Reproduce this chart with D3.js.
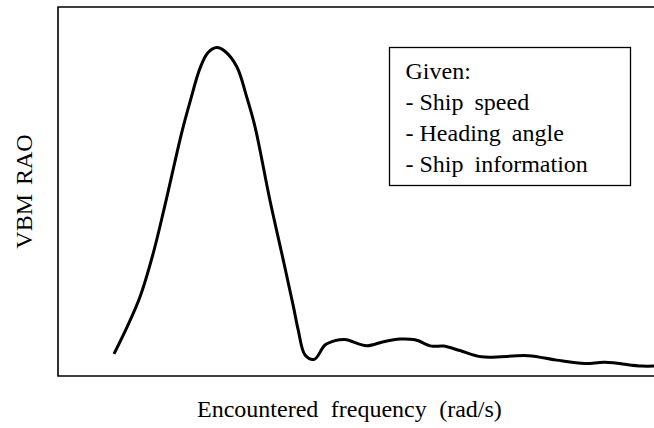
<!DOCTYPE html>
<html>
<head>
<meta charset="utf-8">
<script src="https://cdn.jsdelivr.net/npm/d3@7"></script>
<style>
  html, body { margin: 0; padding: 0; background: #fff; }
  svg { display: block; }
  text { font-family: "Liberation Serif", "Times New Roman", serif; fill: #000; }
</style>
</head>
<body>
<svg id="chart" width="654" height="428"></svg>
<script>
// Encountered frequency (arbitrary units, no ticks in the original)
const frequency = [0.188, 0.232, 0.275, 0.319, 0.359, 0.415, 0.443, 0.477, 0.503, 0.533,
  0.560, 0.600, 0.633, 0.661, 0.711, 0.756, 0.790, 0.806, 0.829, 0.860,
  0.896, 0.930, 0.963, 1.036, 1.092, 1.148, 1.198, 1.254, 1.293, 1.349,
  1.422, 1.578, 1.673, 1.768, 1.836, 1.959, 2.000];
// VBM RAO (normalised)
const vbmRao = [0.060, 0.133, 0.214, 0.331, 0.463, 0.659, 0.743, 0.835, 0.876, 0.890,
  0.880, 0.838, 0.757, 0.676, 0.477, 0.314, 0.188, 0.125, 0.057, 0.045,
  0.084, 0.096, 0.099, 0.082, 0.093, 0.100, 0.098, 0.081, 0.081, 0.069,
  0.052, 0.055, 0.043, 0.034, 0.037, 0.027, 0.027];
const legendTitle = "Given:";
const legendItems = ["Ship speed", "Heading angle", "Ship information"];
const xLabel = "Encountered frequency (rad/s)";
const yLabel = "VBM RAO";

const svg = d3.select("#chart");
const plotLeft = 58, plotTop = 7, plotBottom = 376, plotRight = 660;

const x = d3.scaleLinear().domain([0, 2]).range([plotLeft, 654]);
const y = d3.scaleLinear().domain([0, 1]).range([plotBottom, plotTop]);

// Frame: left, top, bottom
svg.append("path")
  .attr("d", `M${plotRight},${plotTop}H${plotLeft}V${plotBottom}H${plotRight}`)
  .attr("fill", "none").attr("stroke", "#000").attr("stroke-width", 1.6);

const data = frequency.map((f, i) => ({ f, v: vbmRao[i] }));
const line = d3.line().x(d => x(d.f)).y(d => y(d.v)).curve(d3.curveCatmullRom.alpha(0.5));
svg.append("path")
  .datum(data)
  .attr("d", line)
  .attr("fill", "none")
  .attr("stroke", "#000")
  .attr("stroke-width", 3)
  .attr("stroke-linejoin", "round");

// Legend box
const lg = svg.append("g");
lg.append("rect")
  .attr("x", 389.5).attr("y", 47.5).attr("width", 241).attr("height", 138)
  .attr("fill", "#fff").attr("stroke", "#000").attr("stroke-width", 1.3);
lg.append("text")
  .attr("x", 405.5).attr("y", 79.3)
  .attr("font-size", 24)
  .text(legendTitle);
const items = lg.selectAll("text.item").data(legendItems).enter().append("text")
  .attr("class", "item")
  .attr("x", 405.5)
  .attr("y", (d, i) => 79.3 + (i + 1) * 30.8)
  .attr("font-size", 24);
items.append("tspan").text("- ");
items.append("tspan").attr("word-spacing", 5).text(d => d);

// Axis labels
svg.append("text")
  .attr("x", 197).attr("y", 416.5)
  .attr("font-size", 24)
  .attr("word-spacing", 6.5)
  .text(xLabel);

svg.append("text")
  .attr("transform", `translate(32,191.5) rotate(-90)`)
  .attr("text-anchor", "middle")
  .attr("font-size", 24)
  .attr("word-spacing", 3)
  .text(yLabel);
</script>
</body>
</html>
